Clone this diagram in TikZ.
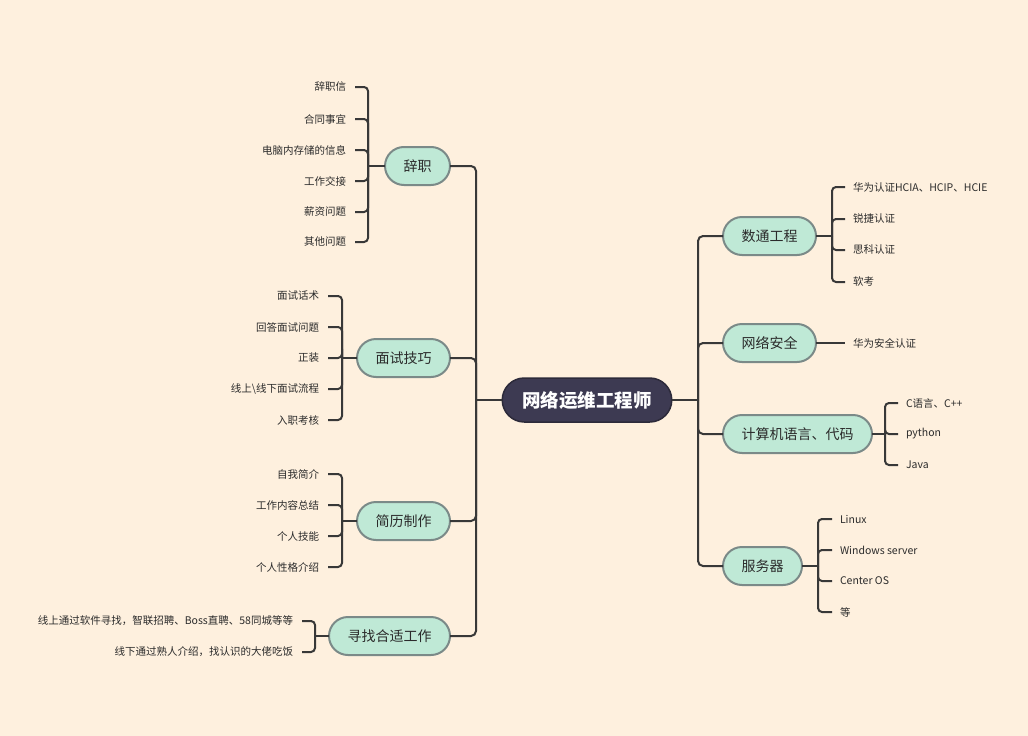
\documentclass[tikz,border=0pt]{standalone}
\usepackage{fontspec}
\setmainfont{Noto Sans CJK SC}
\definecolor{bgc}{HTML}{FEF0DE}
\definecolor{mint}{HTML}{BFE9D6}
\definecolor{nborder}{HTML}{7B8A88}
\definecolor{lnc}{HTML}{383838}
\definecolor{cfill}{HTML}{3D3A52}
\definecolor{cborder}{HTML}{2C2A3A}
\definecolor{txt}{HTML}{2B2B2B}
\tikzset{
  topic/.style={draw=nborder, line width=2pt, fill=mint, rounded corners=19pt,
    minimum height=38pt, inner xsep=18.5pt, inner ysep=0pt, outer sep=0pt,
    text=txt, font=\fontsize{14}{16}\selectfont},
  central/.style={draw=cborder, line width=1.5pt, fill=cfill, rounded corners=22pt,
    minimum height=44pt, inner xsep=20pt, outer sep=0pt,
    text=white, font=\fontsize{18.5}{20}\selectfont\bfseries},
  lleaf/.style={anchor=east, inner xsep=9pt, inner ysep=1pt, outer sep=0pt,
    text=txt, font=\fontsize{10.5}{12}\selectfont},
  rleaf/.style={anchor=west, inner xsep=8pt, inner ysep=1pt, outer sep=0pt,
    text=txt, font=\fontsize{10.5}{12}\selectfont},
  conn/.style={draw=lnc, line width=2pt, rounded corners=4pt},
  trunk/.style={draw=lnc, line width=2pt, rounded corners=5pt},
}
\begin{document}
\begin{tikzpicture}[x=1pt,y=-1pt]
\fill[bgc] (0,0) rectangle (1028,736);
\useasboundingbox (0,0) rectangle (1028,736);

% central
\node[central] (c) at (587,400) {网络运维工程师};

% left topics
\node[topic, anchor=east] (t1) at (450,166) {辞职};
\node[topic, anchor=east] (t2) at (450,358) {面试技巧};
\node[topic, anchor=east] (t3) at (450,521) {简历制作};
\node[topic, anchor=east] (t4) at (450,636) {寻找合适工作};

% right topics
\node[topic, anchor=west] (r1) at (723,236) {数通工程};
\node[topic, anchor=west] (r2) at (723,343) {网络安全};
\node[topic, anchor=west] (r3) at (723,434) {计算机语言、代码};
\node[topic, anchor=west] (r4) at (723,566) {服务器};

% trunks
\coordinate (tl) at (476,400);
\coordinate (tr) at (698,400);
\draw[trunk] (c.west) -- (tl);
\draw[trunk] (c.east) -- (tr);
\foreach \n in {t1,t2,t3,t4} \draw[trunk] (tl) |- (\n.east);
\foreach \n in {r1,r2,r3,r4} \draw[trunk] (tr) |- (\n.west);

% leaves of 辞职
\coordinate (b1) at (368,166);
\node[lleaf] (l11) at (355,87) {辞职信};
\node[lleaf] (l12) at (355,119) {合同事宜};
\node[lleaf] (l13) at (355,150) {电脑内存储的信息};
\node[lleaf] (l14) at (355,181) {工作交接};
\node[lleaf] (l15) at (355,212) {薪资问题};
\node[lleaf] (l16) at (355,242) {其他问题};
\draw[conn] (t1.west) -- (b1);
\foreach \n in {l11,l12,l13,l14,l15,l16} \draw[conn] (b1) |- (\n.east);

% leaves of 面试技巧
\coordinate (b2) at (342,358);
\node[lleaf] (l21) at (328,296) {面试话术};
\node[lleaf] (l22) at (328,327) {回答面试问题};
\node[lleaf] (l23) at (328,358) {正装};
\node[lleaf] (l24) at (328,389) {线上\textbackslash 线下面试流程};
\node[lleaf] (l25) at (328,420) {入职考核};
\draw[conn] (t2.west) -- (b2);
\foreach \n in {l21,l22,l23,l24,l25} \draw[conn] (b2) |- (\n.east);

% leaves of 简历制作
\coordinate (b3) at (342,521);
\node[lleaf] (l31) at (328,474) {自我简介};
\node[lleaf] (l32) at (328,505) {工作内容总结};
\node[lleaf] (l33) at (328,536) {个人技能};
\node[lleaf] (l34) at (328,567) {个人性格介绍};
\draw[conn] (t3.west) -- (b3);
\foreach \n in {l31,l32,l33,l34} \draw[conn] (b3) |- (\n.east);

% leaves of 寻找合适工作
\coordinate (b4) at (315,636);
\node[lleaf] (l41) at (302,621) {线上通过软件寻找，智联招聘、Boss直聘、58同城等等};
\node[lleaf] (l42) at (302,652) {线下通过熟人介绍，找认识的大佬吃饭};
\draw[conn] (t4.west) -- (b4);
\foreach \n in {l41,l42} \draw[conn] (b4) |- (\n.east);

% leaves of 数通工程
\coordinate (rb1) at (832,236);
\node[rleaf] (m11) at (845,187) {华为认证HCIA、HCIP、HCIE};
\node[rleaf] (m12) at (845,219) {锐捷认证};
\node[rleaf] (m13) at (845,250) {思科认证};
\node[rleaf] (m14) at (845,282) {软考};
\draw[conn] (r1.east) -- (rb1);
\foreach \n in {m11,m12,m13,m14} \draw[conn] (rb1) |- (\n.west);

% leaf of 网络安全
\node[rleaf] (m21) at (845,343) {华为安全认证};
\draw[conn] (r2.east) -- (m21.west);

% leaves of 计算机语言、代码
\coordinate (rb3) at (885,434);
\node[rleaf] (m31) at (898,403) {C语言、C++};
\node[rleaf] (m32) at (898,434) {python};
\node[rleaf] (m33) at (898,465) {Java};
\draw[conn] (r3.east) -- (rb3);
\foreach \n in {m31,m32,m33} \draw[conn] (rb3) |- (\n.west);

% leaves of 服务器
\coordinate (rb4) at (818,566);
\node[rleaf] (m41) at (832,519) {Linux};
\node[rleaf] (m42) at (832,550) {Windows server};
\node[rleaf] (m43) at (832,581) {Center OS};
\node[rleaf] (m44) at (832,612) {等};
\draw[conn] (r4.east) -- (rb4);
\foreach \n in {m41,m42,m43,m44} \draw[conn] (rb4) |- (\n.west);
\end{tikzpicture}
\end{document}
